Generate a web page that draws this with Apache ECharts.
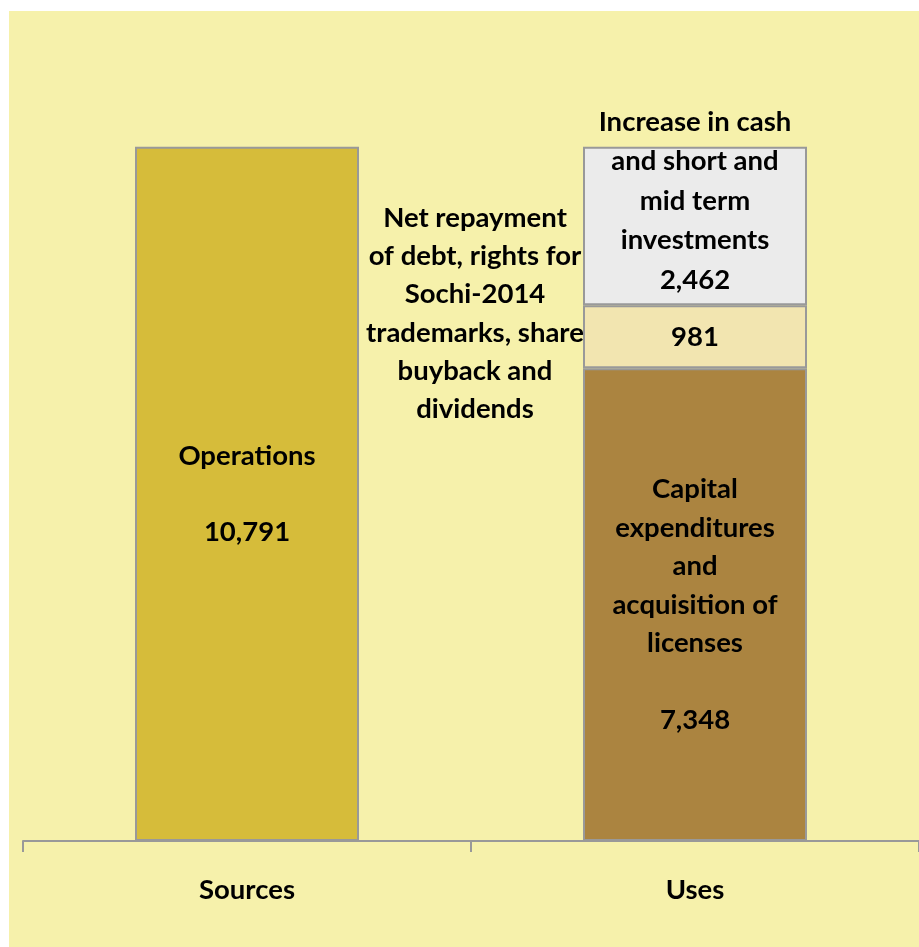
<!DOCTYPE html>
<html>
<head>
<meta charset="utf-8">
<script src="https://cdn.jsdelivr.net/npm/echarts@6/dist/echarts.min.js"></script>
<style>
  html, body { margin: 0; padding: 0; background: #fff; }
  #main {
    position: absolute;
    left: 9px;
    top: 11px;
    width: 910px;
    height: 936px;
  }
</style>
</head>
<body>
<div id="main"></div>
<script>
// categories and values (RUB mn)
var categories = ["Sources", "Uses"];
var operations = [10791, "-"];
var capex = ["-", 7348];
var netRepayment = ["-", 981];
var cashIncrease = ["-", 2462];

var font = "Lato, 'Open Sans', sans-serif";
var textBase = {
  color: "#000",
  fontFamily: font,
  fontWeight: "bold",
  fontSize: 27.5,
  lineHeight: 38
};

var myChart = echarts.init(document.getElementById("main"));

function fmt(v) {
  return echarts.format.addCommas(v);
}

var option = {
  backgroundColor: "#F6F1AB",
  animation: false,
  grid: {
    left: 14,
    right: 0,
    top: 58,
    bottom: 106
  },
  xAxis: {
    type: "category",
    data: categories,
    axisLine: { lineStyle: { color: "#999", width: 2 } },
    axisTick: { show: true, length: 11, lineStyle: { color: "#999", width: 2 } },
    axisLabel: Object.assign({}, textBase, { margin: 30 })
  },
  yAxis: {
    type: "value",
    min: 0,
    max: 12000,
    show: false,
    splitLine: { show: false }
  },
  graphic: [
    {
      // description for the 981 segment, sits left of the Uses bar
      type: "text",
      x: 466,
      y: 199 - 11,
      z: 100,
      style: {
        text: "Net repayment\nof debt, rights for\nSochi-2014\ntrademarks, share\nbuyback and\ndividends",
        fill: "#000",
        font: "bold 27.5px " + font,
        align: "center",
        verticalAlign: "top",
        lineHeight: 38.2
      }
    }
  ],
  series: [
    {
      name: "Operations",
      type: "bar",
      stack: "total",
      barWidth: "50%",
      data: operations,
      itemStyle: { color: "#D6BC3A", borderColor: "#999", borderWidth: 2 },
      label: Object.assign({}, textBase, {
        show: true,
        position: "inside",
        formatter: function (p) { return "Operations\n\n" + fmt(p.value); }
      })
    },
    {
      name: "Capital expenditures",
      type: "bar",
      stack: "total",
      barWidth: "50%",
      data: capex,
      itemStyle: { color: "#AB8440", borderColor: "#999", borderWidth: 2 },
      label: Object.assign({}, textBase, {
        show: true,
        position: "inside",
        lineHeight: 38.5,
        formatter: function (p) {
          return "Capital\nexpenditures\nand\nacquisition of\nlicenses\n\n" + fmt(p.value);
        }
      })
    },
    {
      name: "Net repayment",
      type: "bar",
      stack: "total",
      barWidth: "50%",
      data: netRepayment,
      itemStyle: { color: "#F2E5B0", borderColor: "#999", borderWidth: 2 },
      label: Object.assign({}, textBase, {
        show: true,
        position: "inside",
        formatter: function (p) { return fmt(p.value); }
      })
    },
    {
      name: "Increase in cash",
      type: "bar",
      stack: "total",
      barWidth: "50%",
      data: cashIncrease,
      itemStyle: { color: "#EBEBEB", borderColor: "#999", borderWidth: 2 },
      label: Object.assign({}, textBase, {
        show: true,
        position: "inside",
        offset: [0, -25],
        lineHeight: 39.5,
        formatter: function (p) {
          return "Increase in cash\nand short and\nmid term\ninvestments\n" + fmt(p.value);
        }
      })
    }
  ]
};

myChart.setOption(option);
</script>
</body>
</html>
